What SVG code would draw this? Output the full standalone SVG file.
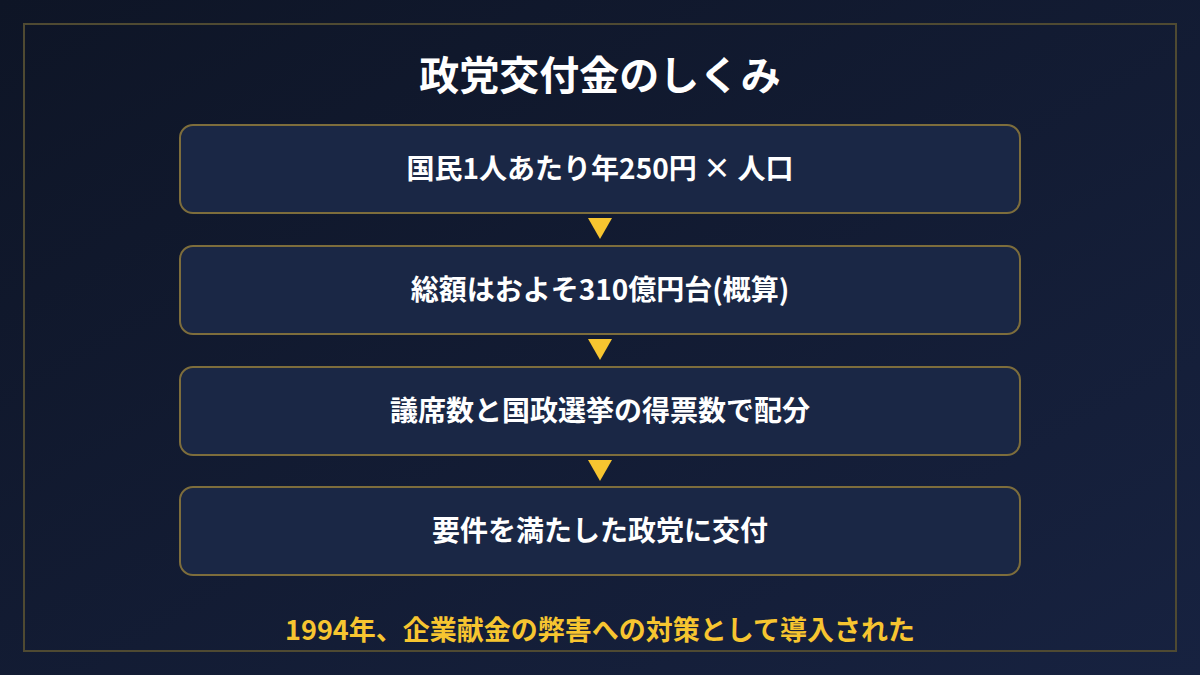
<svg xmlns="http://www.w3.org/2000/svg" width="1200" height="675" viewBox="0 0 1200 675">
<defs>
<linearGradient id="bg" x1="0" y1="0" x2="1" y2="1">
<stop offset="0" stop-color="#0e1526"/>
<stop offset="1" stop-color="#172240"/>
</linearGradient>
<style>
.box{fill:#1a2745;stroke:#7d6d3c;stroke-width:2}
.t{font-family:"Noto Sans CJK JP","Noto Sans",sans-serif;font-weight:700;fill:#ffffff;text-anchor:middle}
.arr{fill:#f7c530}
</style>
</defs>
<rect width="1200" height="675" fill="url(#bg)"/>
<rect x="24" y="24" width="1152" height="627" fill="none" stroke="#4f4a32" stroke-width="2"/>
<text class="t" x="600" y="90" font-size="40">政党交付金のしくみ</text>
<g id="n1"><rect class="box" x="180" y="125" width="840" height="88" rx="13"/><text class="t" x="600" y="179" font-size="28">国民1人あたり年250円 × 人口</text></g>
<g id="n2"><rect class="box" x="180" y="246" width="840" height="88" rx="13"/><text class="t" x="600" y="300" font-size="28">総額はおよそ310億円台(概算)</text></g>
<g id="n3"><rect class="box" x="180" y="367" width="840" height="88" rx="13"/><text class="t" x="600" y="421" font-size="28">議席数と国政選挙の得票数で配分</text></g>
<g id="n4"><rect class="box" x="180" y="487" width="840" height="88" rx="13"/><text class="t" x="600" y="541" font-size="28">要件を満たした政党に交付</text></g>
<g id="connectors">
<polygon class="arr" points="588,218 612,218 600,239"/>
<polygon class="arr" points="588,339 612,339 600,360"/>
<polygon class="arr" points="588,460 612,460 600,481"/>
</g>
<text class="t" x="600" y="640" font-size="27" style="fill:#f7c530">1994年、企業献金の弊害への対策として導入された</text>
</svg>
